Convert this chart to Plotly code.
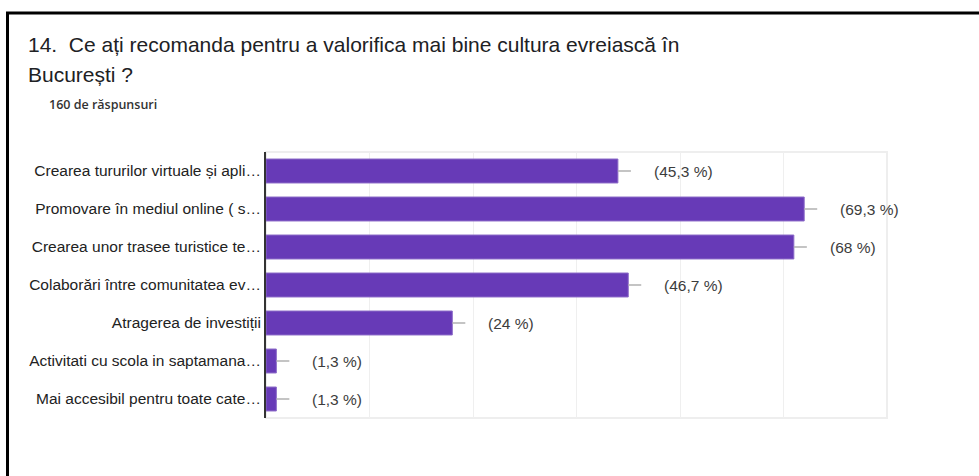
import plotly.graph_objects as go

categories = [
    "Crearea tururilor virtuale și apli…",
    "Promovare în mediul online ( s…",
    "Crearea unor trasee turistice te…",
    "Colaborări între comunitatea ev…",
    "Atragerea de investiții",
    "Activitati cu scola in saptamana…",
    "Mai accesibil pentru toate cate…",
]
counts = [68, 104, 102, 70, 36, 2, 2]
pct_labels = ["(45,3 %)", "(69,3 %)", "(68 %)", "(46,7 %)", "(24 %)", "(1,3 %)", "(1,3 %)"]

title_line1 = "14.  Ce ați recomanda pentru a valorifica mai bine cultura evreiască în"
title_line2 = "București ?"
subtitle = "160 de răspunsuri"

W, H = 979, 476
L, R, T, B = 266, 92, 152, 58
PW, PH = W - L - R, H - T - B
XMAX = 120


def px(x):
    return (x - L) / PW


def py(y):
    return 1 - (y - T) / PH


leader = 13 / (PW / XMAX)

fig = go.Figure()
fig.add_trace(go.Bar(
    y=categories, x=counts, orientation="h",
    marker=dict(color="#673ab7", line=dict(color="#8c6bc8", width=1)),
    hoverinfo="skip",
))

shapes = []
annotations = []
for i, (v, lab) in enumerate(zip(counts, pct_labels)):
    shapes.append(dict(type="line", xref="x", yref="y", x0=v, x1=v + leader,
                       y0=i, y1=i, line=dict(color="#b0b0b0", width=1.5)))
    annotations.append(dict(xref="x", yref="y", x=v, y=i, xanchor="left", yanchor="middle",
                            xshift=34, text=lab, showarrow=False,
                            font=dict(family="Arial", size=15.5, color="#3c3c3c")))

# plot frame (light)
shapes.append(dict(type="rect", xref="paper", yref="paper", x0=0, x1=1, y0=0, y1=1,
                   line=dict(color="#eeeeee", width=2), layer="below"))
# outer black border
shapes.append(dict(type="line", xref="paper", yref="paper", x0=px(7.5), x1=px(7.5),
                   y0=py(12), y1=py(480), line=dict(color="black", width=3)))
shapes.append(dict(type="line", xref="paper", yref="paper", x0=px(6), x1=px(985),
                   y0=py(13), y1=py(13), line=dict(color="black", width=3)))

annotations.append(dict(xref="paper", yref="paper", x=px(26), y=py(44), xanchor="left",
                        yanchor="middle", text=title_line1, showarrow=False,
                        font=dict(family="Arial", size=21, color="#202124")))
annotations.append(dict(xref="paper", yref="paper", x=px(26), y=py(74), xanchor="left",
                        yanchor="middle", text=title_line2, showarrow=False,
                        font=dict(family="Arial", size=21, color="#202124")))
annotations.append(dict(xref="paper", yref="paper", x=px(47), y=py(105), xanchor="left",
                        yanchor="middle", text=subtitle, showarrow=False,
                        font=dict(family="Open Sans", size=12.5, color="#333333", weight=600)))

fig.update_layout(
    width=W, height=H,
    margin=dict(l=L, r=R, t=T, b=B, pad=0),
    paper_bgcolor="white", plot_bgcolor="white",
    showlegend=False, bargap=0.37,
    shapes=shapes, annotations=annotations,
    xaxis=dict(range=[0, XMAX], dtick=20, showgrid=True, gridcolor="#efefef", gridwidth=1,
               showticklabels=False, zeroline=False, showline=False, ticks="", fixedrange=True),
    yaxis=dict(autorange="reversed", showline=True, linecolor="#333333", linewidth=2,
               ticks="", showgrid=False, fixedrange=True,
               tickfont=dict(family="Arial", size=15.5, color="#222222")),
)

fig.write_html(
    "out.html",
    config={"displayModeBar": False},
    post_script="document.body.style.margin='0';document.body.style.overflow='hidden';",
)
